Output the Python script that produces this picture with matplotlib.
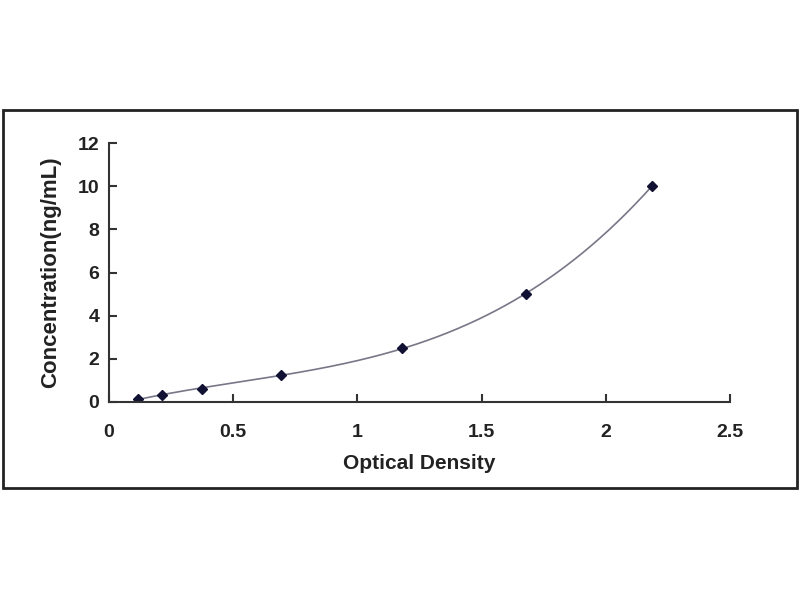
import numpy as np
import matplotlib.pyplot as plt
from matplotlib.patches import Rectangle

# standard curve points
od = [0.118, 0.215, 0.375, 0.693, 1.18, 1.678, 2.185]
conc = [0.156, 0.312, 0.625, 1.25, 2.5, 5.0, 10.0]

plt.rcParams['font.family'] = ['Liberation Sans', 'DejaVu Sans']

fig = plt.figure(figsize=(8, 6), dpi=100)
fig.patch.set_facecolor('white')

# outer frame around the chart
fig.patches.append(Rectangle((3/800, 112/600), 794/800, 378/600,
                             transform=fig.transFigure, fill=False,
                             edgecolor='#222222', linewidth=2))

ax = fig.add_axes([109/800, 198/600, 621/800, 259/600])

# fitted curve (cubic fit of the points)
coef = np.polyfit(od, conc, 3)
xs = np.linspace(min(od), max(od), 300)
ax.plot(xs, np.polyval(coef, xs), color='#777788', linewidth=1.2)
ax.plot(od, conc, linestyle='none', marker='D', markersize=5,
        color='#111133')

ax.set_xlim(0, 2.5)
ax.set_ylim(0, 12)
ax.set_xticks([0, 0.5, 1, 1.5, 2, 2.5])
ax.set_xticklabels(['0', '0.5', '1', '1.5', '2', '2.5'])
ax.set_yticks([0, 2, 4, 6, 8, 10, 12])

for s in ['top', 'right']:
    ax.spines[s].set_visible(False)
for s in ['left', 'bottom']:
    ax.spines[s].set_color('#333333')
    ax.spines[s].set_linewidth(1.5)

ax.tick_params(direction='in', length=6, width=1.5, color='#333333',
               labelsize=14, labelcolor='#222222')
ax.tick_params(axis='x', pad=15.5)
ax.tick_params(axis='y', pad=7)
for lab in ax.get_xticklabels() + ax.get_yticklabels():
    lab.set_fontweight('bold')

ax.set_xlabel('Optical Density', fontsize=15, fontweight='bold',
              color='#222222', labelpad=10)
ax.set_ylabel('Concentration(ng/mL)', fontsize=16, fontweight='bold',
              color='#222222', labelpad=12)

fig.savefig('out.png', dpi=100)
